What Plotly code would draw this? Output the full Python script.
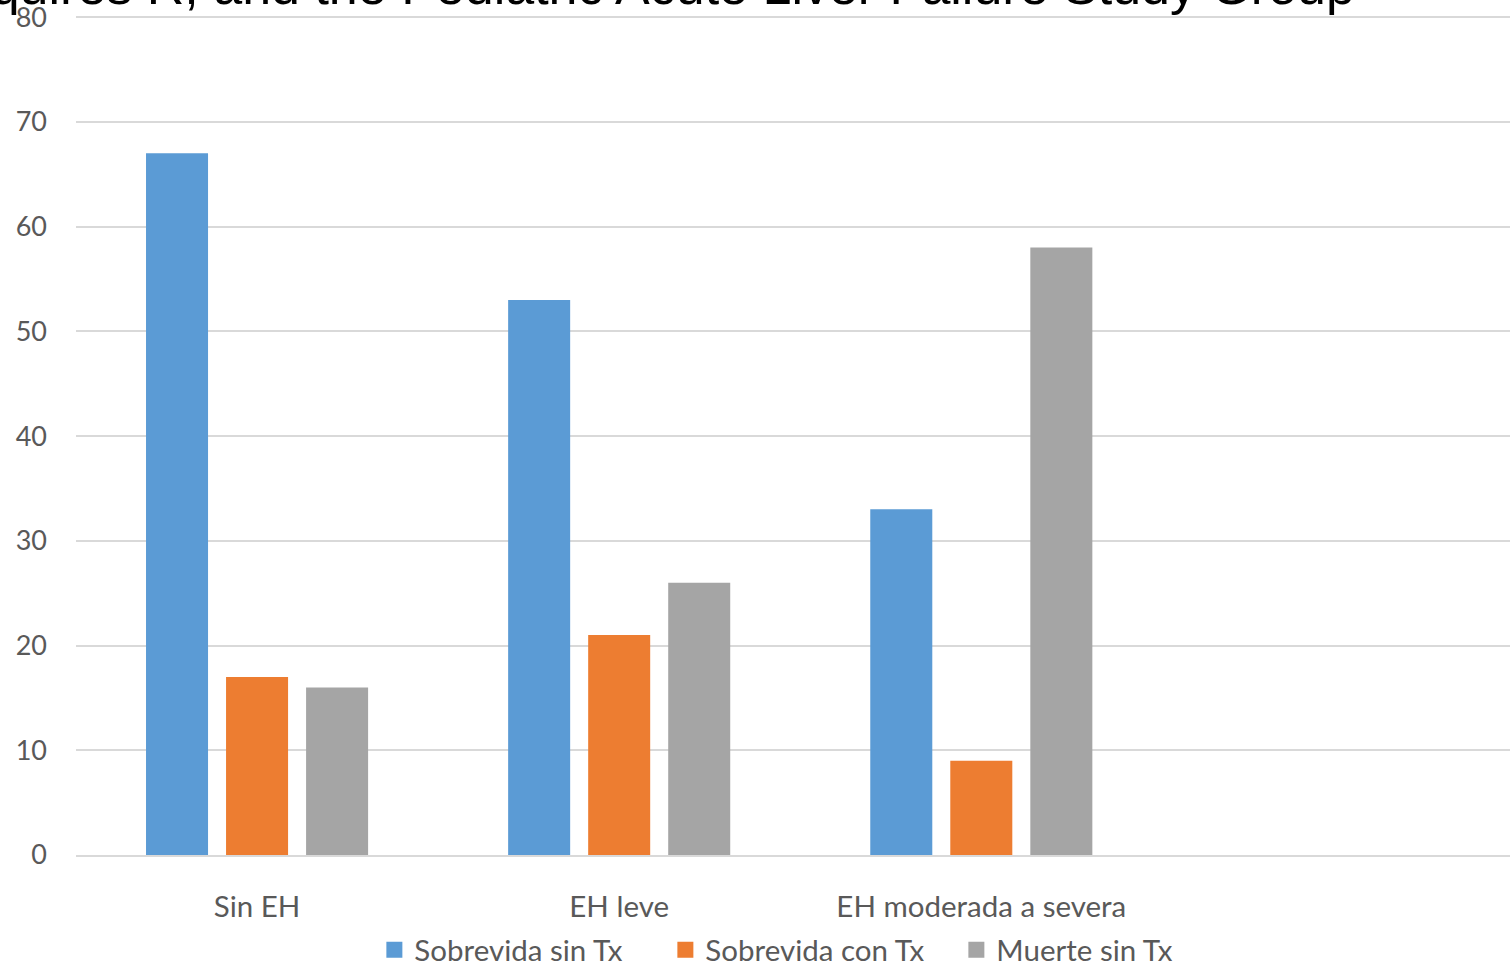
import plotly.graph_objects as go

categories = ["Sin EH", "EH leve", "EH moderada a severa"]
series_names = ["Sobrevida sin Tx", "Sobrevida con Tx", "Muerte sin Tx"]
sobrevida_sin_tx = [67, 53, 33]
sobrevida_con_tx = [17, 21, 9]
muerte_sin_tx = [16, 26, 58]
colors = ["#5B9BD5", "#ED7D31", "#A5A5A5"]
title_text = "Squires R, and the Pediatric Acute Liver Failure Study Group"

values = [sobrevida_sin_tx, sobrevida_con_tx, muerte_sin_tx]

fig = go.Figure()
for name, vals, col in zip(series_names, values, colors):
    fig.add_trace(go.Bar(x=categories, y=vals, name=name, marker_color=col,
                         marker_line_width=0, showlegend=False))
for name, col in zip(series_names, colors):
    fig.add_trace(go.Scatter(x=[None], y=[None], mode="markers", name=name,
                             marker=dict(symbol="square", size=16, color=col)))

fig.update_layout(
    width=1510, height=965,
    margin=dict(l=76, r=0, t=15, b=110),
    paper_bgcolor="white", plot_bgcolor="white",
    barmode="group", bargap=0.337, bargroupgap=0.225,
    font=dict(family="Lato", color="#595959", size=26),
    legend=dict(orientation="h", xref="container", yref="container",
                x=0.537, xanchor="center", y=0.0155, yanchor="middle",
                font=dict(size=29.5, color="#595959"), entrywidth=246,
                itemwidth=30, tracegroupgap=0),
    xaxis=dict(type="category", range=[-0.5, 3.46], showgrid=False,
               showline=True, linecolor="#D9D9D9", linewidth=1.5,
               ticks="", ticklabelstandoff=25, tickfont=dict(size=29.5)),
    yaxis=dict(range=[0, 80.2], tickvals=[0, 10, 20, 30, 40, 50, 60, 70, 80],
               showgrid=True, gridcolor="#D9D9D9",
               gridwidth=1.5, zeroline=False, showline=False, ticks="",
               ticklabelstandoff=28, ticklabeloverflow="allow",
               tickfont=dict(size=27)),
    annotations=[dict(text=title_text, xref="paper", yref="paper",
                      x=(1357 - 76) / 1434, y=1, xanchor="right", yanchor="bottom",
                      yshift=-2, showarrow=False,
                      font=dict(family="Liberation Sans", size=52, color="black"))],
)

fig.write_html("out.html")
